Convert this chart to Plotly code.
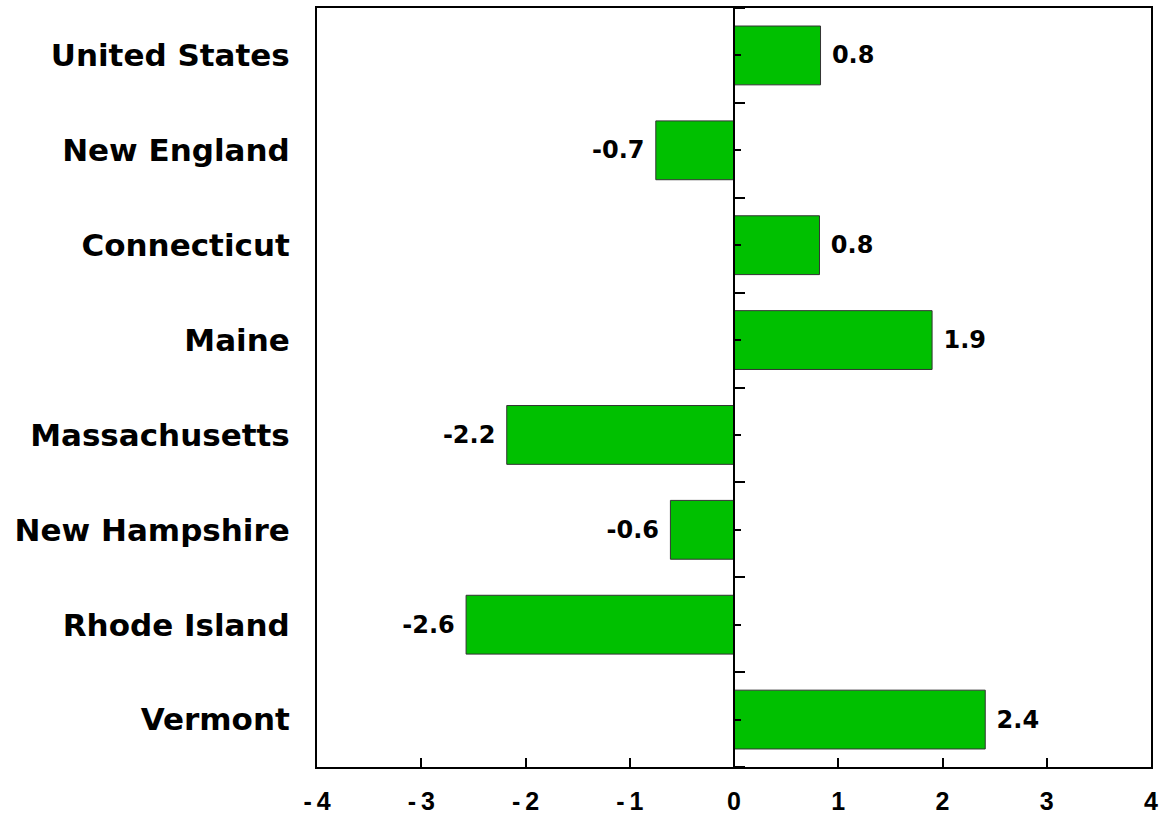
import plotly.graph_objects as go

categories = ["United States", "New England", "Connecticut", "Maine",
              "Massachusetts", "New Hampshire", "Rhode Island", "Vermont"]
values = [0.83, -0.75, 0.82, 1.90, -2.18, -0.61, -2.57, 2.41]
labels = ["0.8", "-0.7", "0.8", "1.9", "-2.2", "-0.6", "-2.6", "2.4"]
x_ticks = [-4, -3, -2, -1, 0, 1, 2, 3, 4]

n = len(categories)
texts = [(" " + t) if v >= 0 else (t + " ") for t, v in zip(labels, values)]
x_tick_text = [("-\u2009" + str(abs(v))) if v < 0 else str(v) for v in x_ticks]

fig = go.Figure()
fig.add_trace(go.Bar(
    y=categories, x=values, orientation="h",
    marker=dict(color="#00C000", line=dict(color="#333333", width=1)),
    width=0.62,
    text=texts, textposition="outside", cliponaxis=False,
    textfont=dict(family="DejaVu Sans", size=24, color="black", weight="bold"),
    hoverinfo="skip",
))
# invisible trace carrying the zero-line tick axis
fig.add_trace(go.Scatter(x=[0], y=[0], yaxis="y2", mode="markers",
                         marker=dict(opacity=0), hoverinfo="skip", showlegend=False))

fig.update_layout(
    width=1160, height=818,
    margin=dict(l=317, r=9, t=8, b=51),
    paper_bgcolor="white", plot_bgcolor="white",
    showlegend=False,
    bargap=0.38,
    xaxis=dict(range=[-4, 4], tickvals=x_ticks, ticktext=x_tick_text,
               ticks="inside", ticklen=9, tickwidth=2, tickcolor="black",
               showline=True, linecolor="black", linewidth=2, mirror=True,
               showgrid=False, zeroline=False, automargin=False,
               ticklabelstandoff=11,
               tickfont=dict(family="Liberation Sans", size=25, color="black", weight="bold")),
    yaxis=dict(categoryorder="array", categoryarray=categories,
               range=[n - 0.5, -0.5],
               showline=True, linecolor="black", linewidth=2, mirror=True,
               showgrid=False, zeroline=False, ticks="", automargin=False,
               ticklabelstandoff=19,
               tickfont=dict(family="DejaVu Sans", size=31, color="black", weight="bold")),
    yaxis2=dict(overlaying="y", anchor="free", side="right", position=0.5,
                range=[n - 0.5, -0.5], automargin=False,
                tickvals=[i - 0.5 for i in range(n + 1)],
                ticks="outside", ticklen=10, tickwidth=2, tickcolor="black",
                minor=dict(tickvals=list(range(n)), ticks="outside", ticklen=6,
                           tickwidth=2, tickcolor="black"),
                showticklabels=False, showline=True, linecolor="black", linewidth=2,
                showgrid=False, zeroline=False),
)

fig.write_html("out.html", config={"displayModeBar": False},
               post_script="document.body.style.margin='0';document.body.style.overflow='hidden';")
